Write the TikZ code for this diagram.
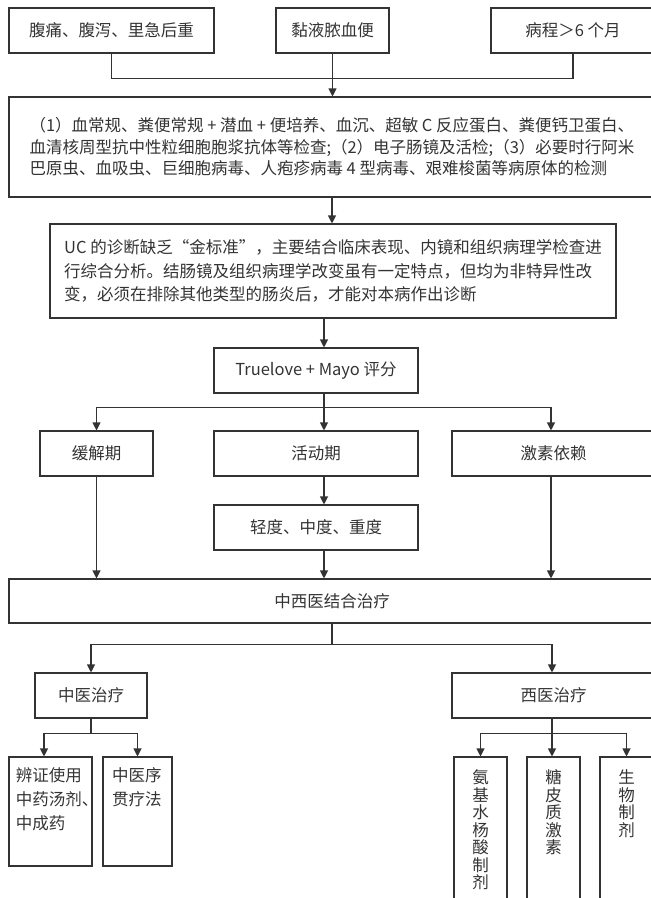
\documentclass[tikz,border=0pt]{standalone}
\usepackage{fontspec}
\newfontfamily\cjk{Noto Sans CJK SC}
\usepackage{tikz}
\usetikzlibrary{arrows.meta}
\definecolor{ink}{HTML}{333333}

\begin{document}
\begin{tikzpicture}[x=1pt,y=-1pt,
    box/.style={draw=ink,line width=1.1pt,inner sep=0pt,minimum height=45pt,
        text=ink,font=\cjk\fontsize{16.5}{21.5}\selectfont},
    line/.style={draw=ink,line width=1.1pt},
    arr/.style={line,-{Triangle[length=8pt,width=8pt]}}]
    \useasboundingbox (0,0) rectangle (651,898);
    \clip (0,0) rectangle (651,898);

    % symptoms
    \node[box,minimum width=205pt] (pain) at (111.5,30.5) {腹痛、腹泻、里急后重};
    \node[box,minimum width=113pt] (stool) at (332.5,30.5) {黏液脓血便};
    \node[box,minimum width=164pt] (course) at (573,30.5) {病程＞6 个月};

    \node[box,minimum width=646pt,minimum height=100pt,align=left] (exam) at (332,147)
        {（1）血常规、粪便常规 + 潜血 + 便培养、血沉、超敏 C 反应蛋白、粪便钙卫蛋白、\\
         血清核周型抗中性粒细胞胞浆抗体等检查;（2）电子肠镜及活检;（3）必要时行阿米\\
         巴原虫、血吸虫、巨细胞病毒、人疱疹病毒 4 型病毒、艰难梭菌等病原体的检测};
    \node[box,minimum width=566pt,minimum height=94pt,align=left,
        font=\cjk\fontsize{16.5}{23.5}\selectfont] (uc) at (333,271)
        {UC 的诊断缺乏“金标准”，主要结合临床表现、内镜和组织病理学检查进\\
         行综合分析。结肠镜及组织病理学改变虽有一定特点，但均为非特异性改\\
         变，必须在排除其他类型的肠炎后，才能对本病作出诊断};
    \node[box,minimum width=204pt] (score) at (316,370.5) {Truelove + Mayo 评分};
    \coordinate (mid) at (324,0);

    % stages
    \node[box,minimum width=113pt] (remit) at (96.5,453.5) {缓解期};
    \node[box,minimum width=204pt] (active) at (316,453.5) {活动期};
    \node[box,minimum width=203pt] (steroid) at (553.5,453.5) {激素依赖};
    \node[box,minimum width=204pt] (grade) at (316,527.5) {轻度、中度、重度};

    % treatment
    \node[box,minimum width=646pt,minimum height=44pt] (combo) at (332,601) {中西医结合治疗};
    \node[box,minimum width=112pt] (tcm) at (91,695.5) {中医治疗};
    \node[box,minimum width=203pt] (wm) at (553.5,695.5) {西医治疗};

    \node[box,font=\cjk\fontsize{16.5}{24}\selectfont] (tcm1) at (50.5,811.5)
        {\parbox[c][109pt][t]{83pt}{\vspace*{11pt}\hspace*{7pt}辨证使用\\\hspace*{7pt}中药汤剂、\\\hspace*{7pt}中成药}};
    \node[box,font=\cjk\fontsize{16.5}{24}\selectfont] (tcm2) at (137.5,811.5)
        {\parbox[c][109pt][t]{69pt}{\vspace*{11pt}\hspace*{9pt}中医序\\\hspace*{9pt}贯疗法}};
    \node[box,font=\cjk\fontsize{16.5}{17.5}\selectfont] (wm1) at (480.5,832)
        {\parbox[c][150pt][t]{53pt}{\vspace*{13pt}\centering 氨\\基\\水\\杨\\酸\\制\\剂}};
    \node[box,font=\cjk\fontsize{16.5}{17.5}\selectfont] (wm2) at (553.5,832)
        {\parbox[c][150pt][t]{53pt}{\vspace*{13pt}\centering 糖\\皮\\质\\激\\素}};
    \node[box,font=\cjk\fontsize{16.5}{17.5}\selectfont] (wm3) at (626.5,832)
        {\parbox[c][150pt][t]{53pt}{\vspace*{13pt}\centering 生\\物\\制\\剂}};

    % connectors
    \draw[line] (pain.south) -- ++(0,25) -| (course.south);
    \draw[arr] (stool.south) -- (stool.south |- exam.north);
    \draw[arr] (exam.south) -- (exam.south |- uc.north);
    \draw[arr] (uc.south -| mid) -- (score.north -| mid);
    \draw[line] (score.south -| mid) -- ++(0,14) coordinate (split);
    \draw[arr] (split) -| (remit.north);
    \draw[arr] (split) -| ([xshift=-2.5pt]steroid.north);
    \draw[arr] (split) -- (active.north -| mid);
    \draw[arr] (active.south -| mid) -- (grade.north -| mid);
    \draw[arr] (remit.south) -- (remit.south |- combo.north);
    \draw[arr] (grade.south -| mid) -- (combo.north -| mid);
    \draw[arr] ([xshift=-2.5pt]steroid.south) -- ([xshift=-2.5pt]steroid.south |- combo.north);

    \draw[line] (combo.south) -- ++(0,21) coordinate (split2);
    \draw[arr] (split2) -| (tcm.north);
    \draw[arr] (split2) -| ([xshift=-1.5pt]wm.north);

    \draw[line] (tcm.south) -- ++(0,15) coordinate (split3);
    \draw[arr] (split3) -| ([xshift=-6.5pt]tcm1.north);
    \draw[arr] (split3) -| (tcm2.north);

    \draw[line] ([xshift=-1.5pt]wm.south) -- ++(0,15) coordinate (split4);
    \draw[arr] (split4) -| (wm1.north);
    \draw[arr] (split4) -| (wm2.north -| split4);
    \draw[arr] (split4) -| (wm3.north);
\end{tikzpicture}
\end{document}
